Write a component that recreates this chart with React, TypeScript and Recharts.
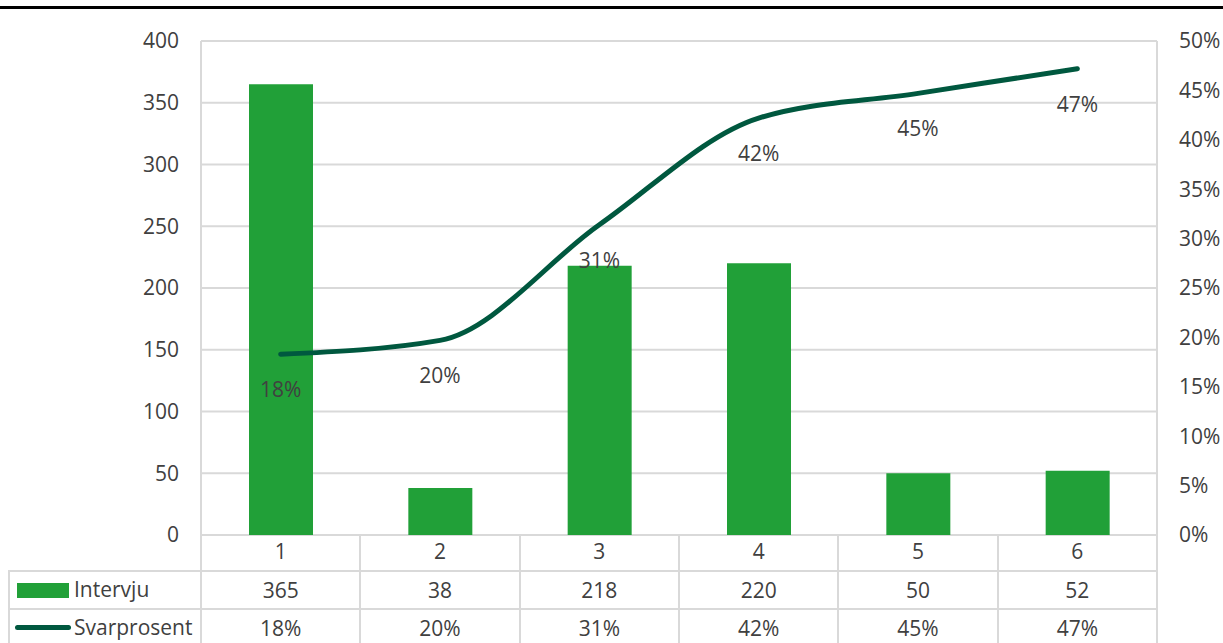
import React from 'react'
import { ComposedChart, Bar, Line, XAxis, YAxis, CartesianGrid, LabelList } from 'recharts'

const categories = ['1', '2', '3', '4', '5', '6']
const intervju = [365, 38, 218, 220, 50, 52]
const svarprosent = [0.183, 0.197, 0.314, 0.422, 0.447, 0.472]
const leftTicks = [0, 50, 100, 150, 200, 250, 300, 350, 400]
const rightTicks = [0, 0.05, 0.1, 0.15, 0.2, 0.25, 0.3, 0.35, 0.4, 0.45, 0.5]

const W = 1223
const H = 643
const PLOT_LEFT = 201
const PLOT_RIGHT = 1157
const PLOT_TOP = 41
const PLOT_BOTTOM = 535
const BAND = (PLOT_RIGHT - PLOT_LEFT) / categories.length

const GRID = '#d9d9d9'
const TEXT = '#404040'
const BAR = '#21a038'
const LINE = '#00583f'
const FONT = '"Open Sans", "Noto Sans", sans-serif'
const FS = 21

const data = categories.map((c, i) => ({
  cat: c,
  intervju: intervju[i],
  svar: svarprosent[i],
}))

const pct = (v: number) => `${Math.round(v * 100)}%`

function HLine({ x1, x2, y }: { x1: number; x2: number; y: number }) {
  return <div style={{ position: 'absolute', left: x1 - 1, top: y - 1, width: x2 - x1 + 2, height: 2, background: GRID }} />
}

function VLine({ x, y1, y2 }: { x: number; y1: number; y2: number }) {
  return <div style={{ position: 'absolute', left: x - 1, top: y1, width: 2, height: y2 - y1, background: GRID }} />
}

function Cell({ x, y, text }: { x: number; y: number; text: string }) {
  return (
    <div
      style={{
        position: 'absolute',
        left: x - BAND / 2,
        top: y - 14,
        width: BAND,
        height: 28,
        lineHeight: '28px',
        textAlign: 'center',
        color: TEXT,
        fontSize: FS,
      }}
    >
      {text}
    </div>
  )
}

export default function App() {
  const rowA = 590
  const rowB = 628

  return (
    <div style={{ position: 'relative', width: W, height: H, overflow: 'hidden', background: '#fff', fontFamily: FONT }}>
      <style>{'body{margin:0}'}</style>
      <div style={{ position: 'absolute', left: 0, top: 6, width: W, height: 3, background: '#000' }} />

      <ComposedChart
        width={W}
        height={H}
        data={data}
        margin={{ top: PLOT_TOP, right: 0, bottom: 0, left: 0 }}
        barCategoryGap={0}
      >
        <CartesianGrid
          yAxisId="left"
          stroke={GRID}
          strokeWidth={2}
          verticalCoordinatesGenerator={({ offset }: any) => [offset.left, offset.left + offset.width]}
        />
        <XAxis
          dataKey="cat"
          axisLine={false}
          tickLine={false}
          height={H - PLOT_BOTTOM}
          tickMargin={3}
          tick={{ fill: TEXT, fontSize: FS, fontFamily: FONT }}
        />
        <YAxis
          yAxisId="left"
          width={PLOT_LEFT}
          domain={[0, 400]}
          ticks={leftTicks}
          axisLine={false}
          tickLine={false}
          tickMargin={16}
          tick={{ fill: TEXT, fontSize: FS, fontFamily: FONT }}
        />
        <YAxis
          yAxisId="right"
          orientation="right"
          width={W - PLOT_RIGHT}
          domain={[0, 0.5]}
          ticks={rightTicks}
          axisLine={false}
          tickLine={false}
          tickMargin={16}
          tickFormatter={pct}
          tick={{ fill: TEXT, fontSize: FS, fontFamily: FONT, textAnchor: 'start' }}
        />
        <Bar yAxisId="left" dataKey="intervju" fill={BAR} barSize={64} isAnimationActive={false} />
        <Line
          yAxisId="right"
          type="monotone"
          dataKey="svar"
          stroke={LINE}
          strokeWidth={5}
          strokeLinecap="round"
          dot={false}
          activeDot={false}
          isAnimationActive={false}
        >
          <LabelList dataKey="svar" position="bottom" offset={28} formatter={(v: any) => pct(Number(v))} fill={TEXT} fontSize={FS} fontFamily={FONT} />
        </Line>
      </ComposedChart>

      {/* data table under the plot */}
      <HLine x1={9} x2={PLOT_RIGHT} y={571} />
      <HLine x1={9} x2={PLOT_RIGHT} y={609} />
      <VLine x={9} y1={571} y2={H} />
      {categories.map((c, i) => (
        <VLine key={'v' + c} x={PLOT_LEFT + i * BAND} y1={PLOT_BOTTOM} y2={H} />
      ))}
      <VLine x={PLOT_RIGHT} y1={PLOT_BOTTOM} y2={H} />

      <div style={{ position: 'absolute', left: 17, top: 583, width: 52, height: 15, background: BAR }} />
      <div style={{ position: 'absolute', left: 74, top: rowA - 15, height: 28, lineHeight: '28px', color: TEXT, fontSize: FS }}>Intervju</div>
      <div style={{ position: 'absolute', left: 15, top: rowB - 3, width: 56, height: 5, borderRadius: 3, background: LINE }} />
      <div style={{ position: 'absolute', left: 74, top: rowB - 15, height: 28, lineHeight: '28px', color: TEXT, fontSize: FS }}>Svarprosent</div>

      {intervju.map((v, i) => (
        <Cell key={'a' + i} x={PLOT_LEFT + (i + 0.5) * BAND} y={rowA} text={String(v)} />
      ))}
      {svarprosent.map((v, i) => (
        <Cell key={'b' + i} x={PLOT_LEFT + (i + 0.5) * BAND} y={rowB} text={pct(v)} />
      ))}
    </div>
  )
}
